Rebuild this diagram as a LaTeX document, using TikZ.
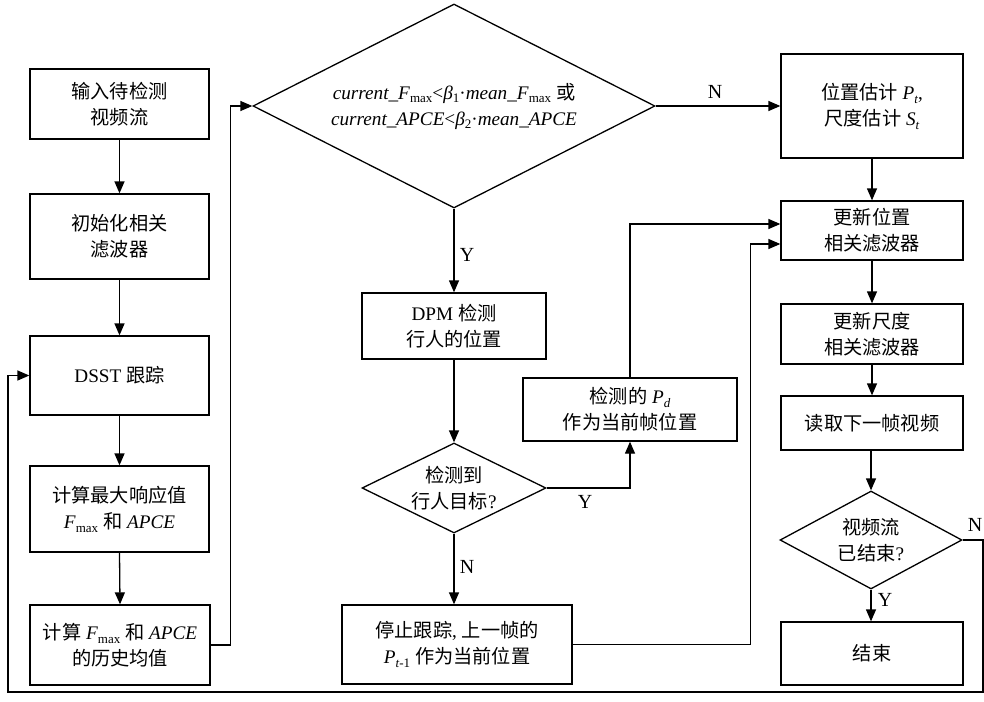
\documentclass[tikz,border=0pt]{standalone}
\usepackage{fontspec}
\setmainfont{Liberation Serif}
\newfontfamily\cjk{Noto Sans CJK SC}
\usetikzlibrary{arrows.meta,shapes.geometric}
\newcommand{\zh}[1]{{\cjk #1}}
\newcommand{\sbx}[1]{\raisebox{-0.45ex}{\fontsize{6.5}{7}\selectfont #1}}
\begin{document}
\begin{tikzpicture}[x=0.5pt,y=-0.5pt,
 every node/.style={font=\fontsize{9.6}{13}\selectfont},
 box/.style={draw,line width=0.65pt,rectangle,align=center,inner sep=0pt},
 dia/.style={draw,line width=0.65pt,diamond,inner sep=0pt},
 txt/.style={align=center,inner sep=0pt},
 arr/.style={line width=0.65pt,-{Triangle[length=6pt,width=5pt]}},
 lbl/.style={font=\fontsize{10}{12}\selectfont,inner sep=0pt}]
\useasboundingbox (0,0) rectangle (984,701);
% left column
\node[box,minimum width=89.5pt,minimum height=35pt] (b1) at (119.5,104) {\zh{输入待检测}\\\zh{视频流}};
\node[box,minimum width=89.5pt,minimum height=42.5pt] (b2) at (119.5,236.5) {\zh{初始化相关}\\\zh{滤波器}};
\node[box,minimum width=89.5pt,minimum height=39.5pt] (b3) at (119.5,375.5) {DSST \zh{跟踪}};
\node[box,minimum width=89.5pt,minimum height=43pt] (b4) at (119.5,509) {\zh{计算最大响应值}\\\textit{F}\sbx{max} \zh{和} \textit{APCE}};
\node[box,minimum width=90pt,minimum height=40pt] (b5) at (120,645) {\zh{计算} \textit{F}\sbx{max} \zh{和} \textit{APCE}\\\zh{的历史均值}};
% middle
\node[dia,minimum width=201pt,minimum height=102pt] (d1) at (454,106) {};
\node[txt] (d1t) at (d1) {\textit{current\_F}\sbx{max}<\textit{β}\sbx{1}·\textit{mean\_F}\sbx{max} \zh{或}\\\textit{current\_APCE}<\textit{β}\sbx{2}·\textit{mean\_APCE}};
\node[box,minimum width=92pt,minimum height=33pt] (m1) at (454,326) {DPM \zh{检测}\\\zh{行人的位置}};
\node[dia,minimum width=92pt,minimum height=45pt] (d2) at (454,488) {};
\node[txt] (d2t) at (d2) {\zh{检测到}\\\zh{行人目标}?};
\node[box,minimum width=107pt,minimum height=31.5pt] (m3) at (630,409.5) {\zh{检测的} \textit{P}\sbx{\textit{d}}\\\zh{作为当前帧位置}};
\node[box,minimum width=115pt,minimum height=39.5pt] (m2) at (457,644.5) {\zh{停止跟踪}, \zh{上一帧的}\\\textit{P}\sbx{\textit{t}-1} \zh{作为当前位置}};
% right column
\node[box,minimum width=91pt,minimum height=52pt] (r1) at (872,106) {\zh{位置估计} \textit{P}\sbx{\textit{t}},\\\zh{尺度估计} \textit{S}\sbx{\textit{t}}};
\node[box,minimum width=91pt,minimum height=29.5pt] (r2) at (872,230.5) {\zh{更新位置}\\\zh{相关滤波器}};
\node[box,minimum width=91pt,minimum height=30pt] (r3) at (872,334) {\zh{更新尺度}\\\zh{相关滤波器}};
\node[box,minimum width=91pt,minimum height=27pt] (r4) at (872,423) {\zh{读取下一帧视频}};
\node[dia,minimum width=91pt,minimum height=49pt] (d3) at (871,540) {};
\node[txt] (d3t) at (d3) {\zh{视频流}\\\zh{已结束}?};
\node[box,minimum width=91pt,minimum height=31.5pt] (r5) at (872,653.5) {\zh{结束}};
% connectors
\draw[arr] (b1.south) -- (b2.north);
\draw[arr] (b2.south) -- (b3.north);
\draw[arr] (b3.south) -- (b4.north);
\draw[arr] (b4.south) -- (b5.north);
\draw[arr] (b5.east) -- ++(20,0) |- (d1.west);
\draw[arr] (d1.east) -- (r1.west);
\node[lbl] (n1) at (715,92) {N};
\draw[arr] (d1.south) -- (d1.south |- m1.north);
\node[lbl] (y1) at (467,255) {Y};
\draw[arr] (m1.south) -- (d2.north);
\draw[arr] (d2.east) -| (m3.south);
\node[lbl] (y2) at (585,502) {Y};
\draw[arr] (d2.south) -- (d2.south |- m2.north);
\node[lbl] (n2) at (467,567) {N};
\draw[arr] (m3.north) |- ([yshift=3.25pt]r2.west);
\draw[arr] (m2.east) -- ++(178,0) |- ([yshift=-6.75pt]r2.west);
\draw[arr] (r1.south) -- (r2.north);
\draw[arr] (r2.south) -- (r3.north);
\draw[arr] (r3.south) -- (r4.north);
\draw[arr] (r4.south -| d3.north) -- (d3.north);
\draw[arr] (d3.south) -- (d3.south |- r5.north);
\node[lbl] (y3) at (885,600) {Y};
\draw[arr] (d3.east) -- (983,540) -- (983,692) -- (8,692) |- (b3.west);
\draw[line width=1pt] (983,692) -- (8,692);
\node[lbl] (n3) at (975,525) {N};
\end{tikzpicture}
\end{document}
